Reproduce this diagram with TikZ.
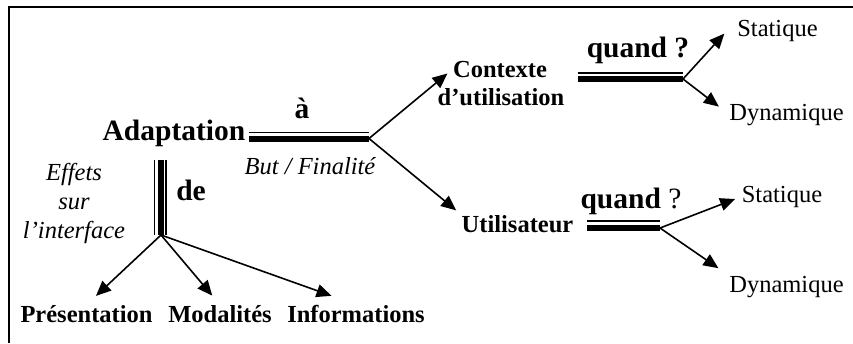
\documentclass[tikz,border=0pt]{standalone}
\usepackage{fontspec}
\setmainfont{Liberation Serif}
\usepackage{tikz}
\usetikzlibrary{calc}
\usetikzlibrary{arrows.meta}
\newcommand{\dblbar}[3]{\draw[line width=6pt] (#1) -- (#2); \draw[line width=1.5pt] ([yshift=#3]#1) -- ([yshift=#3]#2);}
\newcommand{\tribar}[2]{\draw[line width=6pt] (#1) -- (#2); \draw[line width=1.5pt] ([xshift=-6.5pt]#1) -- ([xshift=-6.5pt]#2); \draw[line width=1.5pt] ([xshift=5pt]#1) -- ([xshift=5pt]#2);}

\begin{document}
\begin{tikzpicture}[x=1pt,y=-1pt,
        txt/.style={font=\fontsize{24.5}{29}\selectfont,inner sep=0pt,anchor=base},
        bf/.style={txt,font=\fontsize{24.5}{29}\selectfont\bfseries},
        it/.style={txt,font=\fontsize{24.5}{29}\selectfont\itshape},
        big/.style={txt,font=\fontsize{29.5}{35}\selectfont\bfseries},
        arr/.style={-{Triangle[length=15pt,width=13pt]},line width=1.6pt}]
        \useasboundingbox (0,0) rectangle (853,343);
        \draw[line width=2pt] (9,343) -- (9,6.5) -- (853,6.5);
        %adaptation
        \node[big] (adp) at (174,140) {Adaptation};
        \node[big] (a) at (302,118) {à};
        \node[it] (but) at (310,174) {But / Finalité};
        \node[big] (de) at (191,200) {de};
        \node[it,align=center,anchor=center] (eff) at (74,203) {Effets\\sur\\l’interface};
        \coordinate (aL) at (249,138.5);
        \coordinate (aR) at (369,138.5);
        \dblbar{aL}{aR}{6pt}
        \coordinate (dT) at (161,160);
        \coordinate (dB) at (161,235);
        \tribar{dT}{dB}
        %effets
        \node[bf] (pre) at (86.5,322) {Présentation};
        \node[bf] (mod) at (220,322) {Modalités};
        \node[bf] (inf) at (356,322) {Informations};
        \foreach \n/\sh in {pre/13pt,mod/12pt,inf/26pt}
            \draw[arr,shorten >=\sh] (dB) -- (\n.north);
        %but
        \node[bf] (ctx) at (500,77) {Contexte};
        \node[bf] (ctxb) at (501,105) {d’utilisation};
        \node[bf] (utl) at (517.5,232) {Utilisateur};
        \draw[arr,shorten >=7pt] (aR) -- (ctx.west);
        \draw[arr,shorten >=7pt] (aR) -- (utl.north west);
        %quand
        \node[big] (q1) at (638,57) {quand ?};
        \coordinate (q1L) at (578,79);
        \coordinate (q1R) at (683,79);
        \dblbar{q1L}{q1R}{6pt}
        \node[txt] (sta1) at (777.5,36) {Statique};
        \node[txt] (dyn1) at (786.5,120) {Dynamique};
        \draw[arr,shorten >=19pt] (q1R) -- (sta1.north west);
        \draw[arr,shorten >=13pt] (q1R) -- (dyn1.west);
        \node[big] (q2) at (631,208) {quand {\mdseries ?}};
        \coordinate (q2L) at (587,228);
        \coordinate (q2R) at (660,228);
        \dblbar{q2L}{q2R}{7pt}
        \node[txt] (sta2) at (782,202) {Statique};
        \node[txt] (dyn2) at (786.5,292) {Dynamique};
        \draw[arr,shorten >=7pt] (q2R) -- (sta2.west);
        \draw[arr,shorten >=13pt] (q2R) -- (dyn2.north west);
    \end{tikzpicture}
\end{document}
